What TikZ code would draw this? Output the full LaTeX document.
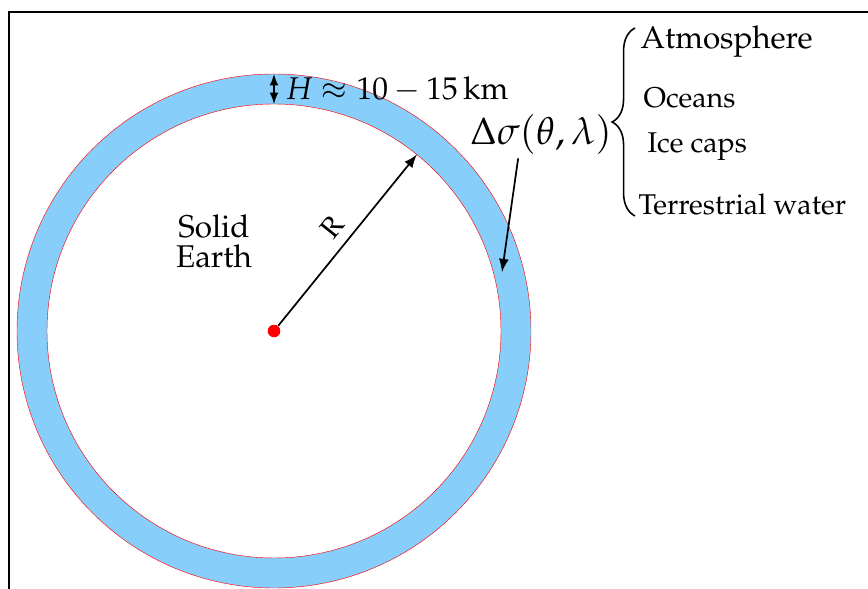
\documentclass[tikz,border=0pt]{standalone}
\usepackage[T1]{fontenc}
\usepackage{mathpazo}
\usetikzlibrary{decorations.pathreplacing}
\definecolor{ringblau}{RGB}{135,206,250}

\tikzset{
    punkt/.style={circle, fill=red, inner sep=0pt, minimum size=4.4pt},
    pil/.style={-latex, semithick},
    posten/.style={anchor=west, inner sep=0pt},
    gross/.style={font=\fontsize{11}{12.5}\selectfont}
}

\begin{document}
\begin{tikzpicture}[x=0.35pt, y=0.35pt]
    \useasboundingbox (0,-589) rectangle (868,0);
    \draw[line width=0.7pt] (9,-589) coordinate (FU) -- (9,-12) coordinate (FE) -- (868,-12) coordinate (FR);
    \coordinate (O) at (274,-331);
    \fill[ringblau, even odd rule] (O) circle (257) (O) circle (227);
    \draw[red, line width=0.15pt] (O) circle (257) (O) circle (227);
    \path node[punkt] (M) at (O) {}
        coordinate (Ha) at (274,-74)
        coordinate (Hi) at (274,-104)
        node[anchor=west, inner sep=0pt, gross] (H) at (285,-89) {$H \approx 10 - 15\,\mathrm{km}$}
        node[align=center, gross, inner sep=0pt] (SE) at (214,-241) {Solid\\[-2.2pt]Earth}
        node[font=\fontsize{13.4}{16}\selectfont, inner sep=1pt] (DS) at (541,-135) {$\Delta\sigma(\theta,\lambda)$}
        coordinate (DT) at (502,-272)
        coordinate (BU) at (635,-216)
        coordinate (BO) at (635,-28)
        node[posten, gross] (A) at (640,-42) {Atmosphere}
        node[posten] (Oc) at (643,-98) {Oceans}
        node[posten] (I) at (647,-147) {Ice caps}
        node[posten] (T) at (638,-204) {Terrestrial water};
    \path (O) ++(51:227) coordinate (R);
    \draw[latex-latex, thin] (Ha) -- (Hi);
    \draw[pil] (M) -- node[midway, above, sloped] {R} (R);
    \draw[pil] ([xshift=-8pt]DS.south) -- (DT);
    \draw[decorate, decoration={brace, amplitude=8pt}, line width=0.55pt] (BU) -- (BO);
\end{tikzpicture}
\end{document}
